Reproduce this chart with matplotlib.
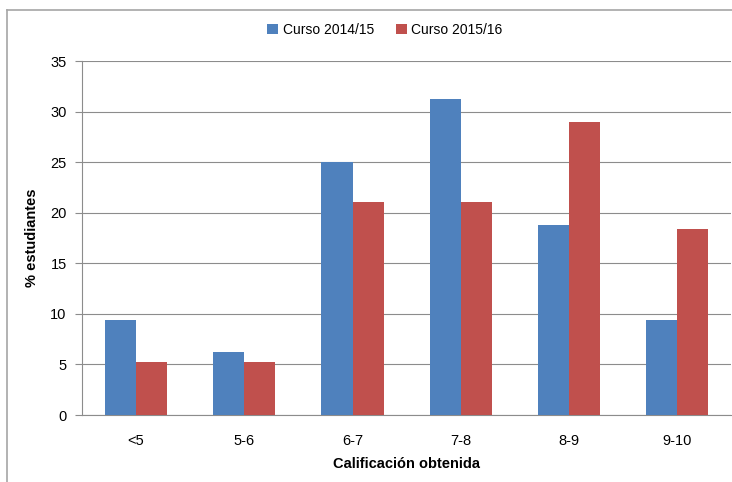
import matplotlib
matplotlib.use("Agg")
import matplotlib.pyplot as plt
import numpy as np
from matplotlib.lines import Line2D

plt.rcParams['font.family'] = ['Liberation Sans Narrow', 'Liberation Sans', 'DejaVu Sans']

categorias = ["<5", "5-6", "6-7", "7-8", "8-9", "9-10"]
curso_1415 = [9.375, 6.25, 25.0, 31.25, 18.75, 9.375]
curso_1516 = [5.26, 5.26, 21.05, 21.05, 28.95, 18.42]

fig = plt.figure(figsize=(7.32, 4.82), dpi=100)
ax = fig.add_axes([0.112, 0.139, 0.887, 0.734])

# marco del gráfico (solo arriba e izquierda, el resto queda fuera de la imagen)
x0, y0 = 7.5 / 732, 1 - 9.5 / 482
fig.lines.append(Line2D([x0, 1.0], [y0, y0], transform=fig.transFigure, color='#A6A6A6', lw=1.2))
fig.lines.append(Line2D([x0, x0], [0, y0], transform=fig.transFigure, color='#A6A6A6', lw=1.2))

x = np.arange(len(categorias))
w = 0.287
ax.bar(x - w / 2, curso_1415, w, color='#4F81BD', label='Curso 2014/15', zorder=3)
ax.bar(x + w / 2, curso_1516, w, color='#C0504D', label='Curso 2015/16', zorder=3)

ax.set_xlim(-0.5, len(categorias) - 0.5)
ax.set_ylim(0, 35)
ax.set_yticks(range(0, 36, 5))
ax.set_xticks(x)
ax.set_xticklabels(categorias)
ax.yaxis.grid(True, color='#8C8C8C', linewidth=0.8, zorder=0)
ax.set_axisbelow(True)

for s in ['top', 'right']:
    ax.spines[s].set_visible(False)
for s in ['left', 'bottom']:
    ax.spines[s].set_color('#8C8C8C')
ax.tick_params(axis='y', length=5, color='#8C8C8C', labelsize=10.5, pad=6)
ax.tick_params(axis='x', length=0, labelsize=10.5, pad=14)

ax.set_ylabel('% estudiantes', fontsize=10.5, fontweight='bold', labelpad=8)
ax.set_xlabel('Calificación obtenida', fontsize=10.5, fontweight='bold', labelpad=6)

ax.legend(loc='center', bbox_to_anchor=(385 / 732, 1 - 30 / 482), bbox_transform=fig.transFigure,
          ncol=2, frameon=False, fontsize=10, handlelength=0.8, handleheight=0.8,
          handletextpad=0.3, columnspacing=1.6)

fig.savefig('out.png', dpi=100)
